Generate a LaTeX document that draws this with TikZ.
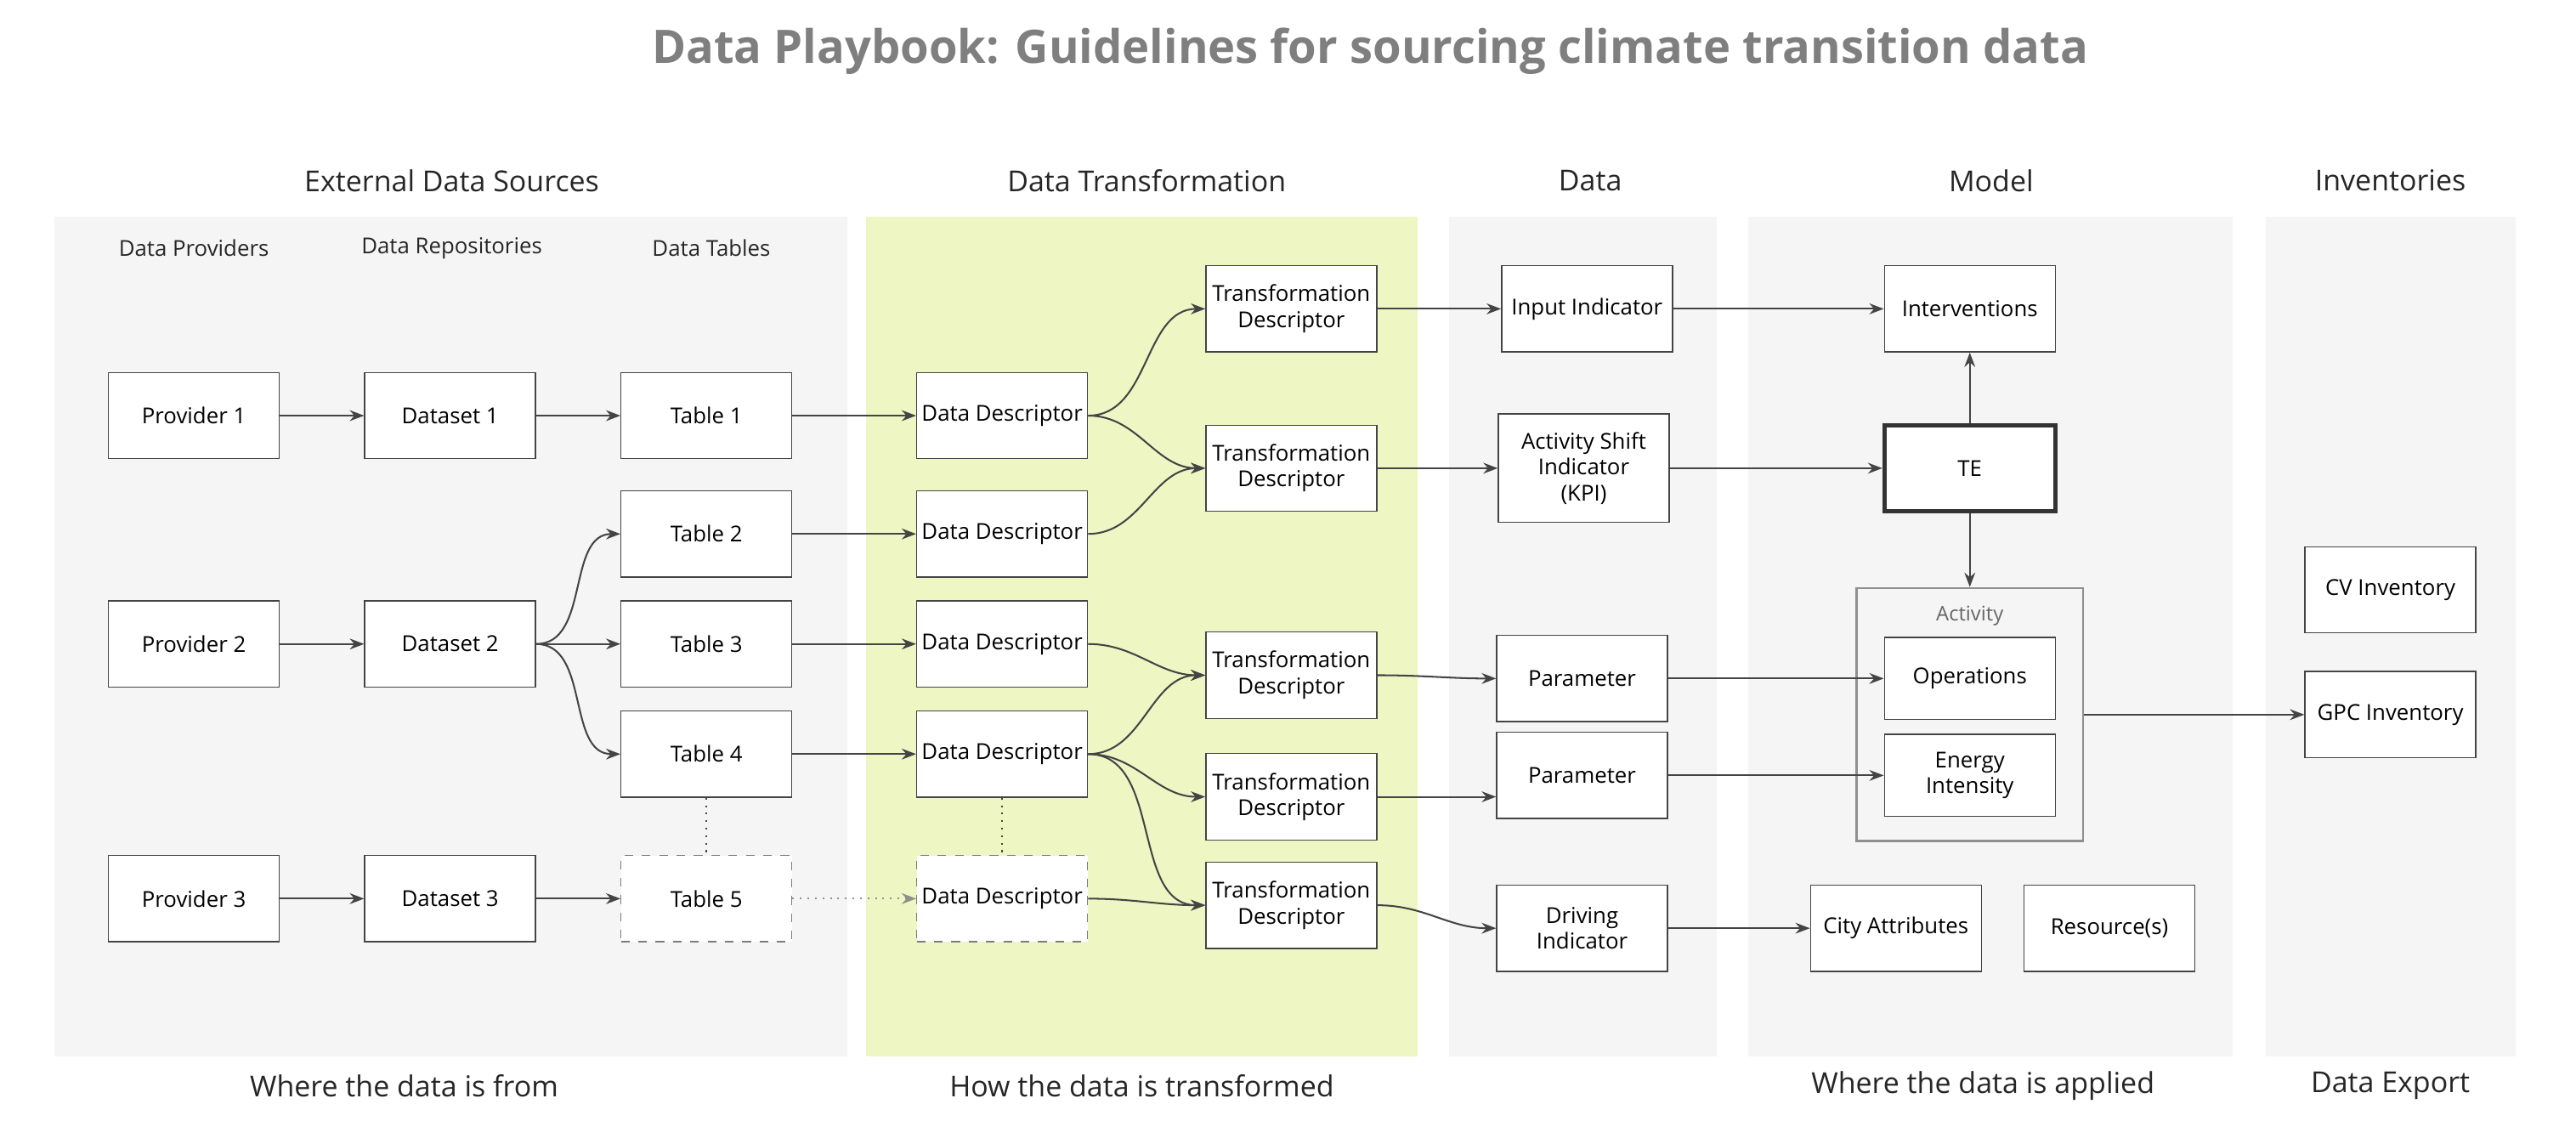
\documentclass[tikz,border=0pt]{standalone}
\usepackage{fontspec}
\setmainfont{Open Sans}
\usetikzlibrary{arrows.meta, positioning, calc}
\definecolor{panel}{HTML}{F5F5F5}
\definecolor{trans}{HTML}{EEF6C4}
\definecolor{ink}{HTML}{444444}
\definecolor{title}{HTML}{7F7F7F}

\begin{document}
\begin{tikzpicture}[
  x=0.02cm, y=-0.02cm,
  box/.style={draw=ink, fill=white, minimum width=2.08cm, minimum height=1.05cm,
              font=\fontsize{7.6}{9}\selectfont, align=center, inner sep=1pt},
  dbox/.style={box, dashed, draw=ink!70},
  arr/.style={-{Stealth[length=5pt]}, color=ink, line width=0.6pt},
  curv/.style={arr, out=0, in=180},
  head/.style={font=\fontsize{10}{12}\selectfont, text=black!85},
  sub/.style={font=\fontsize{7.6}{9}\selectfont, text=black!85},
  captxt/.style={font=\fontsize{10}{12}\selectfont, text=black!85}
]
  \useasboundingbox[fill=white] (0,0) rectangle (1568,682);

  % Panels
  \fill[panel] (33,132) rectangle (516,643);
  \fill[trans] (527,132) rectangle (863,643);
  \fill[panel] (882,132) rectangle (1045,643);
  \fill[panel] (1064,132) rectangle (1359,643);
  \fill[panel] (1379,132) rectangle (1531,643);

  % Title and headers
  \node[font=\fontsize{16}{19}\selectfont\bfseries, text=title] (ttl) at (834,31)
    {Data Playbook: Guidelines for sourcing climate transition data};
  \node[head] (hext) at (275,110) {External Data Sources};
  \node[head] (htra) at (698,110) {Data Transformation};
  \node[head] (hdat) at (968,110) {Data};
  \node[head] (hmod) at (1212,110) {Model};
  \node[head] (hinv) at (1455,110) {Inventories};
  \node[sub] (sprov) at (118,151) {Data Providers};
  \node[sub] (srepo) at (275,151) {Data Repositories};
  \node[sub] (stab) at (433,151) {Data Tables};

  % Captions
  \node[captxt] (cext) at (246,661) {Where the data is from};
  \node[captxt] (ctra) at (695,661) {How the data is transformed};
  \node[captxt] (cmod) at (1207,661) {Where the data is applied};
  \node[captxt] (cinv) at (1455,661) {Data Export};

  % Sources
  \foreach \i/\y in {1/253, 2/392, 3/547} {
    \node[box] (prov\i) at (118,\y) {Provider \i};
    \node[box] (set\i) at (274,\y) {Dataset \i};
    \draw[arr] (prov\i) -- (set\i);
  }
  \foreach \i/\y in {1/253, 2/325, 3/392, 4/459} {
    \node[box] (tab\i) at (430,\y) {Table \i};
    \node[box] (desc\i) at (610,\y) {Data Descriptor};
    \draw[arr] (tab\i) -- (desc\i);
  }
  \node[dbox] (tab5) at (430,547) {Table 5};
  \node[dbox] (desc5) at (610,547) {Data Descriptor};

  % Transformations
  \foreach \i/\y in {1/188, 2/285, 3/411, 4/485, 5/551}
    \node[box] (tr\i) at (786,\y) {Transformation\\Descriptor};

  % Data
  \node[box] (input) at (966,188) {Input Indicator};
  \node[box, minimum height=1.32cm] (shift) at (964,285) {Activity Shift\\Indicator\\(KPI)};
  \node[box] (param1) at (963,413) {Parameter};
  \node[box] (param2) at (963,472) {Parameter};
  \node[box] (drive) at (963,565) {Driving\\Indicator};

  % Model
  \node[draw=ink!60, line width=0.8pt, minimum width=2.76cm, minimum height=3.08cm] (act) at (1199,435) {};
  \node[font=\fontsize{7}{8}\selectfont, text=black!60] (actlbl) at (1199,375) {Activity};
  \node[box] (interv) at (1199,188) {Interventions};
  \node[box, line width=1.4pt, draw=black!80] (te) at (1199,285) {TE};
  \node[box, minimum height=1cm] (oper) at (1199,413) {Operations};
  \node[box, minimum height=1cm] (energy) at (1199,472) {Energy\\Intensity};
  \node[box] (city) at (1154,565) {City Attributes};
  \node[box] (res) at (1284,565) {Resource(s)};

  % Inventories
  \node[box] (cv) at (1455,359) {CV Inventory};
  \node[box] (gpc) at (1455,435) {GPC Inventory};

  % Arrows
  \draw[arr] (set1) -- (tab1);
  \draw[arr] (set3) -- (tab5);
  \foreach \t in {2,3,4} \draw[curv] (set2.east) to (tab\t.west);
  \draw[arr, dotted, color=ink!60] (tab5) -- (desc5);
  \draw[dotted, color=ink, line width=0.6pt] (tab4) -- (tab5);
  \draw[dotted, color=ink, line width=0.6pt] (desc4) -- (desc5);

  \draw[curv] (desc1.east) to (tr1.west);
  \draw[curv] (desc1.east) to (tr2.west);
  \draw[curv] (desc2.east) to (tr2.west);
  \draw[curv] (desc3.east) to (tr3.west);
  \draw[curv] (desc4.east) to (tr3.west);
  \draw[curv] (desc4.east) to (tr4.west);
  \draw[curv] (desc4.east) to (tr5.west);
  \draw[curv] (desc5.east) to (tr5.west);

  \draw[arr] (tr1) -- (input);
  \draw[arr] (tr2) -- (shift);
  \draw[curv] (tr3.east) to (param1.west);
  \draw[arr] (tr4.east) -- (tr4.east -| param2.west);
  \draw[curv] (tr5.east) to (drive.west);

  \draw[arr] (input) -- (interv);
  \draw[arr] (shift) -- (te);
  \draw[arr] (te) -- (interv);
  \draw[arr] (te) -- (act);
  \draw[arr] (param1) -- (oper);
  \draw[arr] (param2) -- (energy);
  \draw[arr] (drive) -- (city);
  \draw[arr] (act) -- (gpc);
\end{tikzpicture}
\end{document}
